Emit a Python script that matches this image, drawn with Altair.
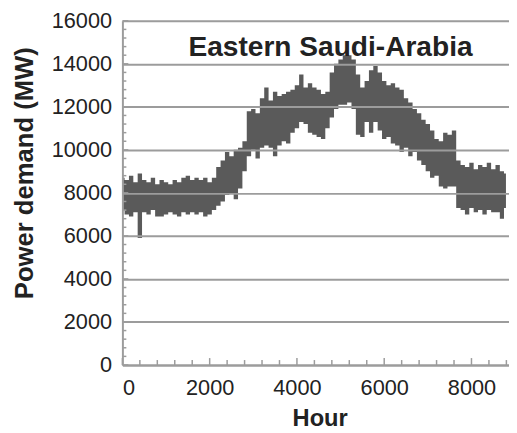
import altair as alt
import pandas as pd

# Hour of year (sampled) with upper / lower envelope of hourly demand (MW)
hours = [0, 100, 200, 300, 400, 500, 600, 700, 800, 900,
         1000, 1100, 1200, 1300, 1400, 1500, 1600, 1700, 1800, 1900,
         2000, 2100, 2200, 2300, 2400, 2500, 2600, 2700, 2800, 2900,
         3000, 3100, 3200, 3300, 3400, 3500, 3600, 3700, 3800, 3900,
         4000, 4100, 4200, 4300, 4400, 4500, 4600, 4700, 4800, 4900,
         5000, 5100, 5200, 5300, 5400, 5500, 5600, 5700, 5800, 5900,
         6000, 6100, 6200, 6300, 6400, 6500, 6600, 6700, 6800, 6900,
         7000, 7100, 7200, 7300, 7400, 7500, 7600, 7700, 7800, 7900,
         8000, 8100, 8200, 8300, 8400, 8500, 8600, 8700, 8790]
upper = [8700, 8600, 8800, 8500, 8900, 8600, 8500, 8700, 8400, 8600,
         8500, 8400, 8600, 8500, 8700, 8800, 8600, 8700, 8600, 8700,
         8500, 8700, 9200, 9500, 9900, 9700, 10000, 10100, 10400, 11800,
         11900, 11700, 12400, 12900, 12300, 12700, 12500, 12600, 12700, 12800,
         13000, 13500, 12900, 13100, 12900, 12800, 12600, 12700, 13600, 14000,
         14200, 14400, 14400, 14200, 13500, 12900, 13200, 13700, 13900, 13600,
         13200, 13000, 13100, 12900, 12800, 12400, 12200, 11900, 11700, 11400,
         11200, 10900, 10500, 10400, 10800, 10700, 10900, 9500, 9300, 9200,
         9400, 9100, 9300, 9200, 9400, 9100, 9300, 9000, 8900]
lower = [7200, 7000, 6900, 7100, 5900, 7100, 7000, 7200, 6900, 6900,
         7000, 7100, 7000, 6900, 7100, 7000, 7100, 7000, 7100, 6900,
         7000, 7200, 7400, 7600, 7900, 8000, 7700, 8200, 9000, 9700,
         10000, 9600, 10100, 10200, 10100, 9700, 10200, 10400, 10300, 10800,
         11000, 11300, 11200, 10800, 10700, 10600, 10500, 11000, 11500, 11900,
         12100, 12100, 12200, 11900, 10700, 10600, 11300, 10800, 11300, 10900,
         10500, 10600, 10300, 10200, 9900, 10100, 9700, 9900, 9500, 9300,
         9000, 8700, 8800, 8300, 8200, 8300, 8300, 7300, 7200, 7000,
         7300, 7100, 7200, 7000, 7200, 7100, 7100, 6800, 7300]

y_major = list(range(0, 16001, 2000))
y_minor = [v for v in range(0, 16001, 400) if v % 2000 != 0]
x_major = [0, 2000, 4000, 6000, 8000]
x_minor = [v for v in range(0, 8801, 400) if v % 2000 != 0]

W, H = 392, 349
GRID = "#9c9c9c"
FONT = "Liberation Sans"

df = pd.DataFrame({"hour": hours, "hi": upper, "lo": lower})

xs = alt.Scale(domain=[0, 8860], nice=False, zero=False)
ys = alt.Scale(domain=[0, 16000], nice=False)

band = alt.Chart(df).mark_area(color="#5a5a5a", interpolate="step", opacity=1).encode(
    x=alt.X("hour:Q", scale=xs,
            axis=alt.Axis(values=x_major, format="d", title="Hour", grid=False, ticks=False, tickSize=0,
                          labelPadding=13, labelFontSize=22, labelColor="#222222", labelFont=FONT,
                          titleFont=FONT, titleFontSize=24, titleFontWeight="bold", titleColor="#222222",
                          titleX=W / 2 + 4, titleY=61, titleBaseline="alphabetic",
                          domainColor=GRID, domainWidth=2, zindex=1)),
    y=alt.Y("hi:Q", scale=ys,
            axis=alt.Axis(values=y_major, format="d", title="Power demand (MW)", grid=True, gridColor=GRID,
                          gridWidth=2, gridOpacity=1, ticks=False, tickSize=0,
                          labelPadding=11, labelFontSize=22, labelColor="#222222", labelFont=FONT,
                          titleFont=FONT, titleFontSize=26, titleFontWeight="bold", titleColor="#222222",
                          titleX=-91, titleY=154, titleBaseline="alphabetic", titleAngle=270,
                          domainColor=GRID, domainWidth=2, zindex=1)),
    y2="lo:Q",
)

ydf_major = pd.DataFrame({"v": y_major})
ydf_minor = pd.DataFrame({"v": y_minor})
xdf_major = pd.DataFrame({"v": x_major})
xdf_minor = pd.DataFrame({"v": x_minor})

ytm = alt.Chart(ydf_major).mark_rule(color=GRID, strokeWidth=1.5).encode(
    y=alt.Y("v:Q", scale=ys), x=alt.value(0), x2=alt.value(6))
ytn = alt.Chart(ydf_minor).mark_rule(color=GRID, strokeWidth=1.5).encode(
    y=alt.Y("v:Q", scale=ys), x=alt.value(0), x2=alt.value(4))
xtm = alt.Chart(xdf_major).mark_rule(color=GRID, strokeWidth=1.5).encode(
    x=alt.X("v:Q", scale=xs), y=alt.value(H), y2=alt.value(H - 7))
xtn = alt.Chart(xdf_minor).mark_rule(color=GRID, strokeWidth=1.5).encode(
    x=alt.X("v:Q", scale=xs), y=alt.value(H), y2=alt.value(H - 5))

title = alt.Chart(pd.DataFrame({"t": ["Eastern Saudi-Arabia"]})).mark_text(
    font=FONT, fontSize=28.5, fontWeight="bold", color="#222222", baseline="alphabetic", align="center"
).encode(text="t:N", x=alt.value(211), y=alt.value(36))

chart = alt.layer(band, ytm, ytn, xtm, xtn, title).properties(
    width=W, height=H,
    autosize=alt.AutoSizeParams(type="none"),
    padding={"left": 116, "top": 10, "right": 0, "bottom": 66},
).configure_view(stroke=None).configure(background="white")

chart.save("out.html", embed_options={"renderer": "svg", "actions": False})
